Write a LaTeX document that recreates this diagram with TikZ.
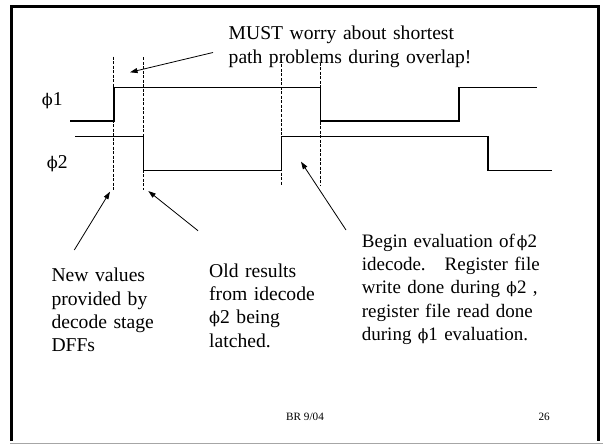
\documentclass[tikz,border=0pt]{standalone}
\usepackage{fontspec}
\setmainfont{Liberation Serif}
\newfontfamily\phif{DejaVu Serif}[Scale=0.82]
\newcommand{\ph}{{\phif ϕ}}
\usetikzlibrary{arrows.meta}
\tikzset{
  wave/.style={line width=1.5pt, line join=miter},
  guide/.style={line width=0.6pt, dash pattern=on 3pt off 1.5pt},
  callout/.style={line width=0.8pt, -{Triangle[length=7.5pt,width=5pt]}},
  txt/.style={inner sep=0pt, anchor=base west, align=left, font=\fontsize{19.6}{23.3}\selectfont},
  foot/.style={inner sep=0pt, anchor=base west, font=\fontsize{11.2}{13}\selectfont},
}
\begin{document}
\begin{tikzpicture}[x=1pt,y=-1pt]
\useasboundingbox (0,0) rectangle (603,444);
% frame
\draw[line width=3pt, line join=miter] (11.7,441) -- (11.7,6.2) -- (598.8,6.2) -- (598.8,441);
\draw[line width=0.8pt, black!35] (10,443.3) -- (603,443.3);
% waveforms
\draw[wave] (70,121) -- (114,121) -- (114,87.3) -- (320.7,87.3) -- (320.7,121) -- (459,121) -- (459,87.3) -- (537,87.3);
\draw[wave] (75,136.7) -- (143.3,136.7) -- (143.3,170.5) -- (281.7,170.5) -- (281.7,136.7) -- (488,136.7) -- (488,170.5) -- (552,170.5);
% guide lines
\draw[guide] (113.5,56.7) -- (113.5,190);
\draw[guide] (143.3,57.3) -- (143.3,190);
\draw[guide] (281.7,60) -- (281.7,185);
\draw[guide] (320.7,63) -- (320.7,185);
% labels
\node[txt] (phi1) at (41.7,106) {\ph1};
\node[txt] (phi2) at (46.7,168.3) {\ph2};
\node[txt, text width=270pt, font=\fontsize{19.6}{24.5}\selectfont] (must) at (228.5,39.5) {MUST worry about shortest\\path problems during overlap!};
\node[txt, text width=140pt] (newv) at (51.3,281.7) {New values\\provided by\\decode stage\\DFFs};
\node[txt, text width=140pt] (oldr) at (209,277.3) {Old results\\from idecode\\\ph2 being\\latched.};
\node[txt, text width=200pt, font=\fontsize{19}{23.2}\selectfont] (begin) at (361.7,247.5) {Begin evaluation of\kern2pt\ph2\\idecode.\ \ \ Register file\\write done during \ph2 ,\\register file read done\\during \ph1 evaluation.};
\node[foot] (br) at (286,420.7) {BR 9/04};
\node[foot] (pg) at (538.3,420.7) {26};
% callout arrows
\coordinate (a0s) at (213,52.5);   \coordinate (a0e) at (130,72.3);
\coordinate (a1s) at (74.3,250);   \coordinate (a1e) at (110,191.7);
\coordinate (a2s) at (198,230.7);  \coordinate (a2e) at (148.3,191);
\coordinate (a3s) at (346,230);    \coordinate (a3e) at (301,161.7);
\draw[callout] (a0s) -- (a0e);
\draw[callout] (a1s) -- (a1e);
\draw[callout] (a2s) -- (a2e);
\draw[callout] (a3s) -- (a3e);
\end{tikzpicture}
\end{document}
